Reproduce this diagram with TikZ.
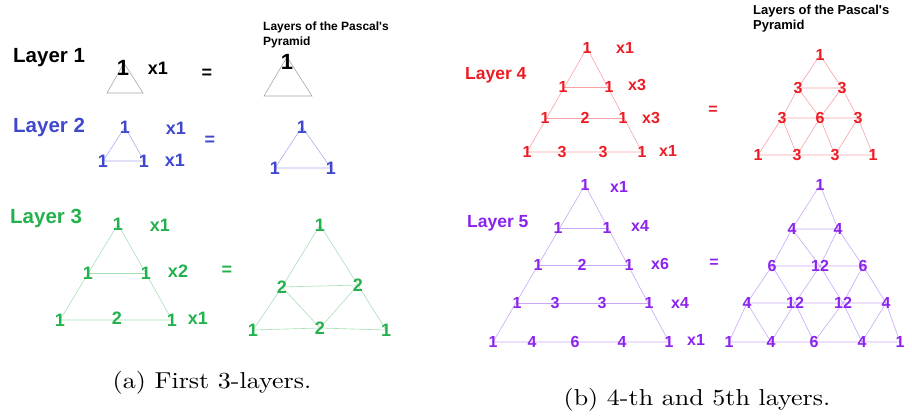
\documentclass[tikz,border=0pt]{standalone}
\usepackage{fontspec}
\usepackage{tikz}
\usetikzlibrary{backgrounds}
\newfontfamily\arialfont{Liberation Sans}
\definecolor{inkblue}  {HTML}{3F48CC}
\definecolor{inkgreen} {HTML}{22B14C}
\definecolor{inkred}   {HTML}{ED1C24}
\definecolor{inkviolet}{HTML}{8B22EE}
\definecolor{lineblue} {HTML}{A9AEEE}
\definecolor{linegreen}{HTML}{A6E0B6}
\definecolor{linered}  {HTML}{F6A3A6}
\definecolor{lineviolet}{HTML}{C9A6F6}
\tikzset{
  txt/.style={inner sep=0pt,font=\arialfont\bfseries\fontsize{#1}{#1}\selectfont},
  big/.style={txt=18},
  small/.style={txt=16},
  layername/.style={inner sep=0pt,anchor=west,font=\arialfont\bfseries\fontsize{#1}{#1}\selectfont},
  title/.style={inner sep=0pt,anchor=north west,align=left,
                font=\arialfont\bfseries\fontsize{#1}{14.5}\selectfont},
  caption/.style={inner sep=0pt,font=\fontsize{10}{12}\selectfont,xscale=2.6,yscale=2.3},
  edge/.style={line width=0.6pt,draw=#1}
}
\begin{document}
\begin{tikzpicture}[x=1pt,y=-1pt]
\useasboundingbox (0,0) rectangle (912,418);

% ---------- layer 1
\node[layername=20.5] (name1) at (13,58) {Layer 1};
\coordinate (t1-top) at (124,63);
\coordinate (t1-l) at (107,93);
\coordinate (t1-r) at (143,93);
\node[txt=22] (t1-0-0) at (123,68) {1};
\node[big] (m1-0) at (158,68) {x1};
\node[big] (eq1) at (207,74) {=};
\coordinate (c1-top) at (287,57);
\coordinate (c1-l) at (264,96);
\coordinate (c1-r) at (312,96);
\node[txt=22] (c1-0-0) at (287,62) {1};
\node[title=12] (titleA) at (263,22) {Layers of the Pascal's\\Pyramid};
\begin{scope}[on background layer]
  \draw[edge=gray!70] (t1-top) -- (t1-l) -- (t1-r) -- cycle;
  \draw[edge=gray!70] (c1-top) -- (c1-l) -- (c1-r) -- cycle;
\end{scope}

% ---------- layer 2
\begin{scope}[inkblue]
\node[layername=20.5] (name2) at (13,127) {Layer 2};
\foreach \n/\x/\y in {0-0/125/127, 1-0/103/161, 1-1/144/161}
  \node[big] (t2-\n) at (\x,\y) {1};
\node[big] (m2-0) at (176,128) {x1};
\node[big] (m2-1) at (175,160) {x1};
\node[big] (eq2) at (210,141) {=};
\foreach \n/\x/\y in {0-0/302/127, 1-0/275/168, 1-1/331/168}
  \node[big] (c2-\n) at (\x,\y) {1};
\end{scope}
\begin{scope}[on background layer]
  \draw[edge=lineblue] (t2-0-0.center) -- (t2-1-0.center) -- (t2-1-1.center) -- cycle;
  \draw[edge=lineblue] (c2-0-0.center) -- (c2-1-0.center) -- (c2-1-1.center) -- cycle;
\end{scope}

% ---------- layer 3
\begin{scope}[inkgreen]
\node[layername=20.5] (name3) at (10,218) {Layer 3};
\foreach \n/\x/\y/\t in {0-0/118/224/1, 1-0/88/273/1, 1-1/146/273/1,
                         2-0/60/320/1, 2-1/117/318/2, 2-2/172/320/1}
  \node[big] (t3-\n) at (\x,\y) {\t};
\node[big] (m3-0) at (160,225) {x1};
\node[big] (m3-1) at (178,271) {x2};
\node[big] (m3-2) at (198,318) {x1};
\node[big] (eq3) at (227,271) {=};
\foreach \n/\x/\y/\t in {0-0/320/225/1, 1-0/282/287/2, 1-1/358/285/2,
                         2-0/253/330/1, 2-1/320/328/2, 2-2/386/330/1}
  \node[big] (c3-\n) at (\x,\y) {\t};
\end{scope}
\begin{scope}[on background layer]
  \draw[edge=linegreen] (t3-0-0.center) -- (t3-2-0.center) -- (t3-2-2.center) -- cycle;
  \draw[edge=linegreen] (t3-1-0.center) -- (t3-1-1.center);
  \foreach \r in {0,1}
    \foreach \c in {0,...,\r} {
      \pgfmathtruncatemacro\rn{\r+1}
      \pgfmathtruncatemacro\cn{\c+1}
      \draw[edge=linegreen] (c3-\r-\c.center) -- (c3-\rn-\c.center) -- (c3-\rn-\cn.center) -- cycle;
    }
\end{scope}

\node[caption] (capA) at (212,383) {(a) First 3-layers.};

% ---------- layer 4
\begin{scope}[inkred]
\node[layername=17.5] (name4) at (465,75) {Layer 4};
\foreach \n/\x/\y/\t in {0-0/587/48/1, 1-0/563/87/1, 1-1/609/87/1,
                         2-0/545/118/1, 2-1/585/118/2, 2-2/623/118/1,
                         3-0/527/152/1, 3-1/562/152/3, 3-2/603/152/3, 3-3/642/152/1}
  \node[small] (t4-\n) at (\x,\y) {\t};
\node[small] (m4-0) at (625,48) {x1};
\node[small] (m4-1) at (637,85) {x3};
\node[small] (m4-2) at (651,118) {x3};
\node[small] (m4-3) at (668,151) {x1};
\node[small] (eq4) at (713,110) {=};
\foreach \n/\x/\y/\t in {0-0/820/55/1, 1-0/798/88/3, 1-1/842/88/3,
                         2-0/782/118/3, 2-1/820/118/6, 2-2/858/118/3,
                         3-0/758/155/1, 3-1/797/155/3, 3-2/835/155/3, 3-3/873/155/1}
  \node[small] (c4-\n) at (\x,\y) {\t};
\end{scope}
\node[title=13] (titleB) at (753,5) {Layers of the Pascal's\\Pyramid};
\begin{scope}[on background layer]
  \draw[edge=linered] (t4-0-0.center) -- (t4-3-0.center) -- (t4-3-3.center) -- cycle;
  \foreach \r in {1,2}
    \draw[edge=linered] (t4-\r-0.center) -- (t4-\r-\r.center);
  \foreach \r in {0,1,2}
    \foreach \c in {0,...,\r} {
      \pgfmathtruncatemacro\rn{\r+1}
      \pgfmathtruncatemacro\cn{\c+1}
      \draw[edge=linered] (c4-\r-\c.center) -- (c4-\rn-\c.center) -- (c4-\rn-\cn.center) -- cycle;
    }
\end{scope}

% ---------- layer 5
\begin{scope}[inkviolet]
\node[layername=17.5] (name5) at (467,223) {Layer 5};
\foreach \n/\x/\y/\t in {0-0/585/185/1, 1-0/558/228/1, 1-1/607/228/1,
                         2-0/538/265/1, 2-1/582/265/2, 2-2/629/265/1,
                         3-0/517/303/1, 3-1/555/303/3, 3-2/602/303/3, 3-3/649/303/1,
                         4-0/493/342/1, 4-1/532/342/4, 4-2/575/342/6, 4-3/622/342/4, 4-4/669/342/1}
  \node[small] (t5-\n) at (\x,\y) {\t};
\node[small] (m5-0) at (619,187) {x1};
\node[small] (m5-1) at (640,226) {x4};
\node[small] (m5-2) at (660,264) {x6};
\node[small] (m5-3) at (680,303) {x4};
\node[small] (m5-4) at (696,340) {x1};
\node[small] (eq5) at (714,263) {=};
\foreach \n/\x/\y/\t in {0-0/820/185/1, 1-0/792/229/4, 1-1/838/229/4,
                         2-0/772/266/6, 2-1/820/266/12, 2-2/863/266/6,
                         3-0/747/303/4, 3-1/795/303/12, 3-2/843/303/12, 3-3/886/303/4,
                         4-0/729/342/1, 4-1/771/342/4, 4-2/814/342/6, 4-3/862/342/4, 4-4/900/342/1}
  \node[small] (c5-\n) at (\x,\y) {\t};
\end{scope}
\begin{scope}[on background layer]
  \draw[edge=lineviolet] (t5-0-0.center) -- (t5-4-0.center) -- (t5-4-4.center) -- cycle;
  \foreach \r in {1,2,3}
    \draw[edge=lineviolet] (t5-\r-0.center) -- (t5-\r-\r.center);
  \foreach \r in {0,...,3}
    \foreach \c in {0,...,\r} {
      \pgfmathtruncatemacro\rn{\r+1}
      \pgfmathtruncatemacro\cn{\c+1}
      \draw[edge=lineviolet] (c5-\r-\c.center) -- (c5-\rn-\c.center) -- (c5-\rn-\cn.center) -- cycle;
    }
\end{scope}

\node[caption] (capB) at (697,400) {(b) 4-th and 5th layers.};
\end{tikzpicture}
\end{document}
